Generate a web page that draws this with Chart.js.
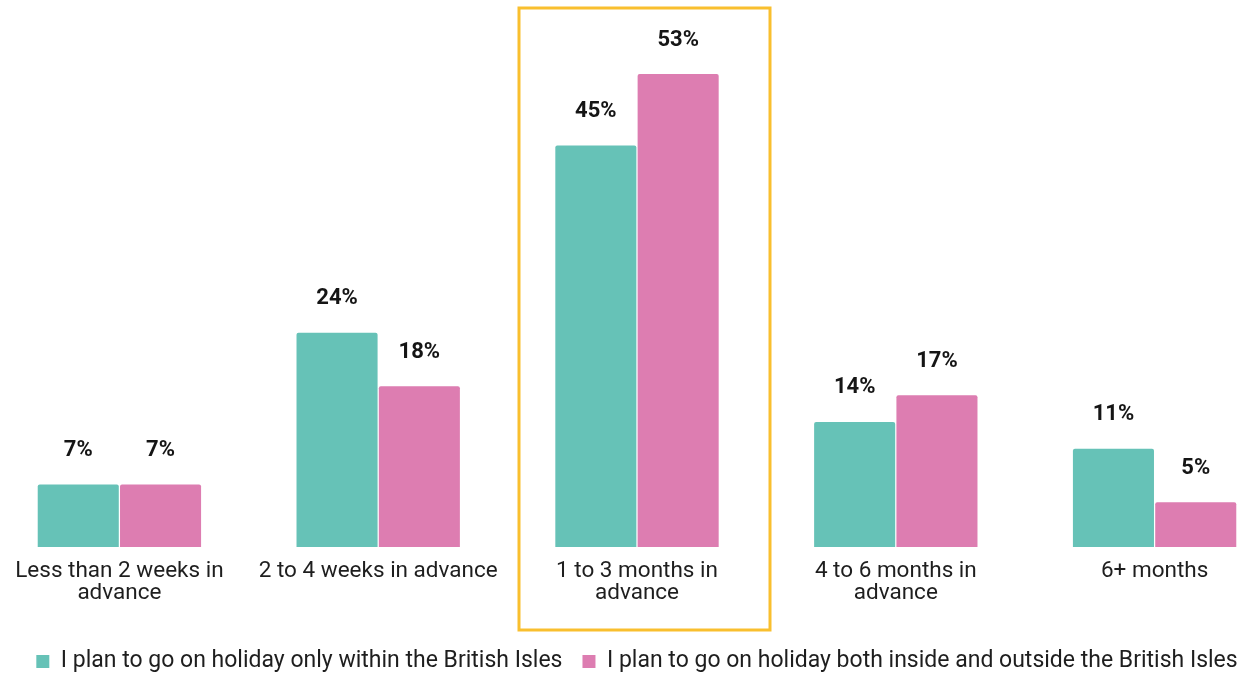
<!DOCTYPE html>
<html>
<head>
<meta charset="utf-8">
<script src="https://cdn.jsdelivr.net/npm/chart.js@4.4.1/dist/chart.umd.min.js"></script>
<style>
html,body{margin:0;padding:0;background:#fff;overflow:hidden;width:1241px;height:673px;}
#wrap{position:absolute;left:-10px;top:0;width:1294px;height:683px;}
</style>
</head>
<body>
<div id="wrap"><canvas id="c" width="1294" height="683"></canvas></div>
<script>
const categories = [
  ["Less than 2 weeks in", "advance"],
  ["2 to 4 weeks in advance"],
  ["1 to 3 months in", "advance"],
  ["4 to 6 months in", "advance"],
  ["6+ months"]
];
const seriesNames = [
  "I plan to go on holiday only within the British Isles",
  "I plan to go on holiday both inside and outside the British Isles"
];
const withinBritishIsles = [7, 24, 45, 14, 11];
const insideAndOutside = [7, 18, 53, 17, 5];
const highlightIndex = 2;

const valueLabels = {
  id: 'valueLabels',
  afterDatasetsDraw(chart) {
    const ctx = chart.ctx;
    ctx.save();
    ctx.font = 'bold 22px Roboto, "Liberation Sans", sans-serif';
    ctx.fillStyle = '#151515';
    ctx.textAlign = 'center';
    ctx.textBaseline = 'middle';
    chart.data.datasets.forEach((ds, i) => {
      chart.getDatasetMeta(i).data.forEach((bar, j) => {
        ctx.fillText(ds.data[j] + '%', bar.x, bar.y - 34);
      });
    });
    ctx.restore();
  }
};

const highlight = {
  id: 'highlight',
  afterDraw(chart) {
    const xs = chart.scales.x;
    const cx = xs.getPixelForValue(highlightIndex);
    const ctx = chart.ctx;
    ctx.save();
    ctx.strokeStyle = '#F9BF2E';
    ctx.lineWidth = 3;
    ctx.strokeRect(cx - 118, 8, 251, 622);
    ctx.restore();
  }
};

new Chart(document.getElementById('c'), {
  type: 'bar',
  data: {
    labels: categories,
    datasets: [
      { label: seriesNames[0], data: withinBritishIsles, backgroundColor: '#66C2B7', borderRadius: 2 },
      { label: seriesNames[1], data: insideAndOutside, backgroundColor: '#DD7DB1', borderRadius: 2 }
    ]
  },
  options: {
    responsive: false,
    animation: false,
    layout: { padding: { top: 0, bottom: 0, left: 0, right: 0 } },
    datasets: { bar: { categoryPercentage: 0.636, barPercentage: 0.985 } },
    scales: {
      x: {
        grid: { display: false },
        border: { display: false },
        afterFit(scale) { scale.height += 21; },
        ticks: {
          color: '#1e1e1e',
          font: { family: 'Roboto, "Liberation Sans", sans-serif', size: 22.5, lineHeight: 0.98 },
          padding: 5,
          maxRotation: 0,
          autoSkip: false
        }
      },
      y: {
        display: false,
        min: 0,
        max: 61.3
      }
    },
    plugins: {
      legend: {
        position: 'bottom',
        labels: {
          color: '#1e1e1e',
          font: { family: 'Roboto, "Liberation Sans", sans-serif', size: 23 },
          boxWidth: 13,
          boxHeight: 13,
          padding: 20
        }
      },
      tooltip: { enabled: false }
    }
  },
  plugins: [valueLabels, highlight]
});
</script>
</body>
</html>
